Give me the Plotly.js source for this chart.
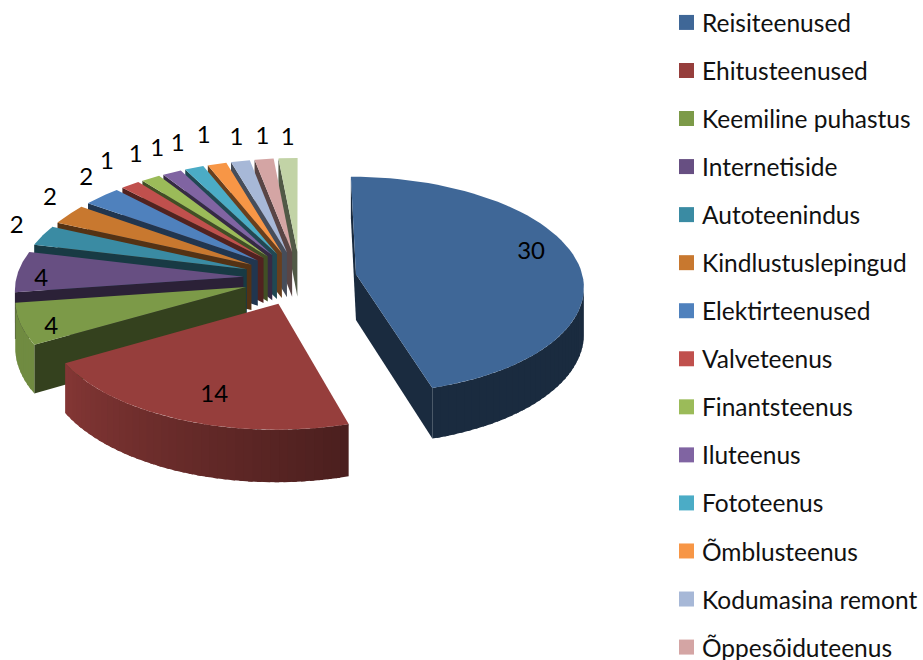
<!DOCTYPE html>
<html>
<head>
<meta charset="utf-8">
<script src="https://cdn.plot.ly/plotly-3.0.1.min.js"></script>
<style>html,body{margin:0;padding:0;background:#fff;overflow:hidden}</style>
</head>
<body>
<div id="chart" style="width:923px;height:660px"></div>
<script>
// Data
const categories = ["Reisiteenused","Ehitusteenused","Keemiline puhastus","Internetiside","Autoteenindus","Kindlustuslepingud","Elektirteenused","Valveteenus","Finantsteenus","Iluteenus","Fototeenus","Õmblusteenus","Kodumasina remont","Õppesõiduteenus",""];
const values = [30,14,4,4,2,2,2,1,1,1,1,1,1,1,1];
const colors = ["#3f6797","#963e3c","#7c9a48","#674f82","#3a8ba3","#c8782f","#4f81bd","#c0504d","#9bbb59","#8064a2","#4bacc6","#f79646","#a7b8d7","#d4a5a4","#c2d3a6"];

// Projection of the tilted, exploded pie
const CX = 300, CY = 278, RX = 227, KY = 108, PERSP = 0.1, EXPLODE = 0.25, DEPTH = 46;
const total = values.reduce((a, b) => a + b, 0);
const project = (X, Y, z) => {
  const s = 1 / (1 - PERSP * Y);
  return [CX + X * RX * s, CY + Y * KY * s + z * DEPTH * s];
};
const rgb = c => [1, 3, 5].map(i => parseInt(c.substr(i, 2), 16));
const shade = (c, f) => "rgb(" + rgb(c).map(v => Math.round(v * f)).join(",") + ")";
const wallShade = deg => deg < 164 ? 0.42 : deg < 240 ? 0.5 + (deg - 164) / 76 * 0.38 : 0.9;

let acc = 0;
const slices = values.map((v, i) => {
  const a0 = acc / total * 360;
  acc += v;
  const a1 = acc / total * 360;
  const mid = (a0 + a1) / 2 * Math.PI / 180;
  const ax = EXPLODE * Math.sin(mid), ay = -EXPLODE * Math.cos(mid);
  return {i, a0, a1, mid, ax, ay};
});
const arcPoint = (s, deg, r) => {
  const t = deg * Math.PI / 180;
  return [s.ax + r * Math.sin(t), s.ay - r * Math.cos(t)];
};

const traces = [];
const poly = (pts, color, name) => traces.push({
  type: "scatter", mode: "lines", x: pts.map(p => p[0]), y: pts.map(p => p[1]),
  fill: "toself", fillcolor: color, line: {color: color, width: 0},
  hoverinfo: "skip", showlegend: false, name: name
});
const wall = (p, q, color, name) => {
  const a = project(p[0], p[1], 0), b = project(q[0], q[1], 0);
  if (b[0] >= a[0]) return;
  poly([a, b, project(q[0], q[1], 1), project(p[0], p[1], 1), a], color, name);
};

slices.slice().sort((a, b) => a.ay - b.ay).forEach(s => {
  const c = colors[s.i], n = categories[s.i];
  const apex = [s.ax, s.ay];
  const first = arcPoint(s, s.a0, 1), last = arcPoint(s, s.a1, 1);
  wall(apex, first, shade(c, 0.42), n);
  wall(last, apex, shade(c, 0.42), n);
  const step = Math.max(1, Math.ceil((s.a1 - s.a0) / 2));
  const seg = (s.a1 - s.a0) / step;
  for (let k = 0; k < step; k++) {
    // Segments overlap slightly so no seam shows
    const d0 = s.a0 + k * seg, d1 = Math.min(s.a1, d0 + seg + 1);
    wall(arcPoint(s, d0, 1), arcPoint(s, d1, 1), shade(c, wallShade(d0 + seg / 2)), n);
  }
  const top = [project(apex[0], apex[1], 0)];
  for (let k = 0; k <= 60; k++) {
    const d = s.a0 + (s.a1 - s.a0) * k / 60;
    const p = arcPoint(s, d, 1);
    top.push(project(p[0], p[1], 0));
  }
  top.push(top[0]);
  poly(top, c, n);
});

// Data labels: radial position on each slice, then a small nudge
const labelRadius = [0.78,0.62,0.88,0.88,1.12,1.12,1.12,1.14,1.14,1.14,1.14,1.14,1.14,1.14,1.14];
const labelNudge = [[3,-9],[-6,23],[3,9],[-4,8],[-2,-5],[2,-10],[2,-10],[-6,-12],[0,-12],[-2,-12],[-6,-12],[-5,-16],[2,-10],[2,-9],[1,-7]];
const labelPts = slices.map(s => {
  const p = arcPoint(s, (s.a0 + s.a1) / 2, labelRadius[s.i]);
  const q = project(p[0], p[1], 0);
  return [q[0] + labelNudge[s.i][0], q[1] + labelNudge[s.i][1]];
});
traces.push({
  type: "scatter", mode: "text", x: labelPts.map(p => p[0]), y: labelPts.map(p => p[1]),
  text: values.map(String), textposition: "middle center",
  textfont: {family: "Lato, Carlito, sans-serif", size: 24, color: "#000"},
  hoverinfo: "skip", showlegend: false
});

// Legend entries
categories.forEach((name, i) => {
  if (!name) return;
  traces.push({
    type: "scatter", mode: "markers", x: [null], y: [null], name: name,
    legendgroup: name, showlegend: true,
    marker: {symbol: "square", size: 15, color: colors[i]}, hoverinfo: "skip"
  });
});

const layout = {
  width: 923, height: 660,
  margin: {l: 0, r: 0, t: 0, b: 0},
  paper_bgcolor: "#fff", plot_bgcolor: "#fff",
  xaxis: {range: [0, 923], visible: false, fixedrange: true},
  yaxis: {range: [660, 0], visible: false, fixedrange: true},
  showlegend: true,
  legend: {
    x: 662 / 923, xanchor: "left", y: 1, yanchor: "top",
    bgcolor: "rgba(0,0,0,0)", tracegroupgap: 13.2,
    maxheight: 2000, itemclick: false, itemdoubleclick: false,
    font: {family: "Lato, Carlito, sans-serif", size: 24.5, color: "#111"}
  },
  hovermode: false
};
Plotly.newPlot("chart", traces, layout, {displayModeBar: false, staticPlot: true}).then(gd => {
  gd.querySelectorAll(".legendsymbols").forEach(g => g.setAttribute("transform", "translate(4.5,0)"));
});
</script>
</body>
</html>
